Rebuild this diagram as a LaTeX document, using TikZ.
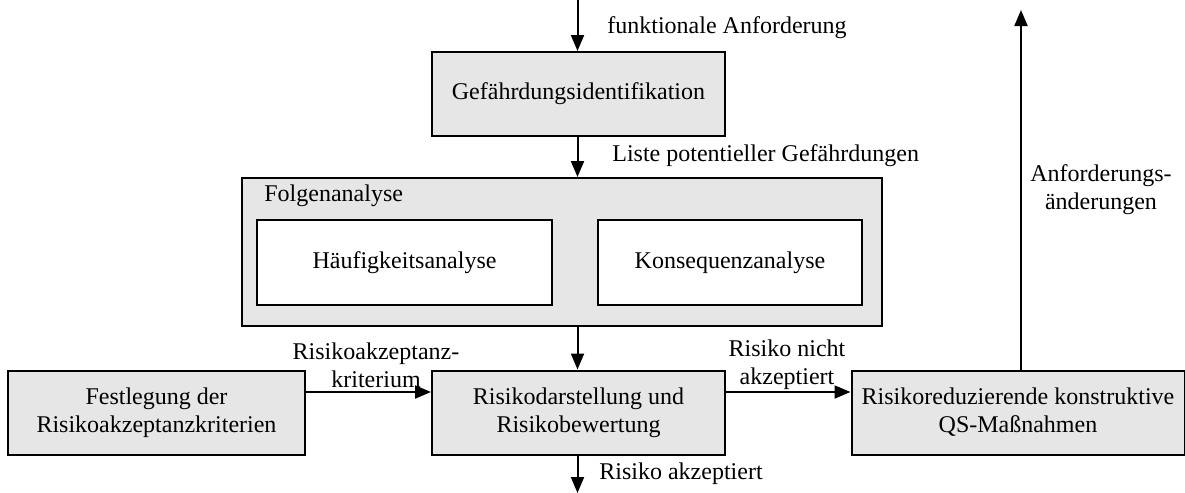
\documentclass[tikz,border=0pt]{standalone}
\usepackage{fontspec}
\setmainfont{Liberation Serif}
\usetikzlibrary{arrows.meta}
\definecolor{boxgray}{RGB}{230,230,230}
\begin{document}
\begin{tikzpicture}[x=0.5pt,y=-0.5pt,
  every node/.style={font=\fontsize{12pt}{14pt}\selectfont, inner sep=0pt},
  box/.style={draw, line width=1pt, fill=boxgray, align=center},
  whitebox/.style={draw, line width=1pt, fill=white, align=center},
  arr/.style={line width=1pt, -{Triangle[length=8pt,width=6.5pt]}},
  lbl/.style={align=center}]
\useasboundingbox (0,0) rectangle (1185,493);

% process boxes
\node[box, minimum width=146.5pt, minimum height=42pt] (gef) at (578.5,94) {Gefährdungsidentifikation};
\node[box, minimum width=320pt, minimum height=74pt] (folgen) at (562,252) {};
\node[anchor=west] (folgenlbl) at (264,196) {Folgenanalyse};
\node[whitebox, minimum width=147.5pt, minimum height=42.5pt] (haeuf) at (404.5,262.5) {Häufigkeitsanalyse};
\node[whitebox, minimum width=132pt, minimum height=42.5pt] (kons) at (730,262.5) {Konsequenzanalyse};
\node[box, minimum width=148.5pt, minimum height=42pt] (fest) at (156.5,412.5) {Festlegung der\\Risikoakzeptanzkriterien};
\node[box, minimum width=146.5pt, minimum height=42pt] (risk) at (578.5,412.5) {Risikodarstellung und\\Risikobewertung};
\node[box, minimum width=166.5pt, minimum height=42pt] (qs) at (1018,412.5) {Risikoreduzierende konstruktive\\QS-Maßnahmen};

% free ends and levels of the connectors
\coordinate (intop) at (577.5,0);
\coordinate (outbot) at (577.5,493);
\coordinate (hlevel) at (0,392);
\coordinate (uptop) at (1021,10);

% connectors
\draw[arr] (intop) -- (gef.north -| intop);
\draw[arr] (gef.south -| intop) -- (folgen.north -| intop);
\draw[arr] (folgen.south -| intop) -- (risk.north -| intop);
\draw[arr] (risk.south -| intop) -- (outbot);
\draw[arr] (fest.east |- hlevel) -- (risk.west |- hlevel);
\draw[arr] (risk.east |- hlevel) -- (qs.west |- hlevel);
\draw[arr] (qs.north -| uptop) -- (uptop);

% connector labels
\node[anchor=west] (lfunk) at (607,28) {funktionale Anforderung};
\node[anchor=west] (lliste) at (612,156) {Liste potentieller Gefährdungen};
\node[lbl] (lkrit) at (376,365) {Risikoakzeptanz-\\kriterium};
\node[lbl] (lnicht) at (787,365) {Risiko nicht\\akzeptiert};
\node[lbl] (laend) at (1101,190) {Anforderungs-\\änderungen};
\node[anchor=west] (lakz) at (599,474) {Risiko akzeptiert};
\end{tikzpicture}
\end{document}
